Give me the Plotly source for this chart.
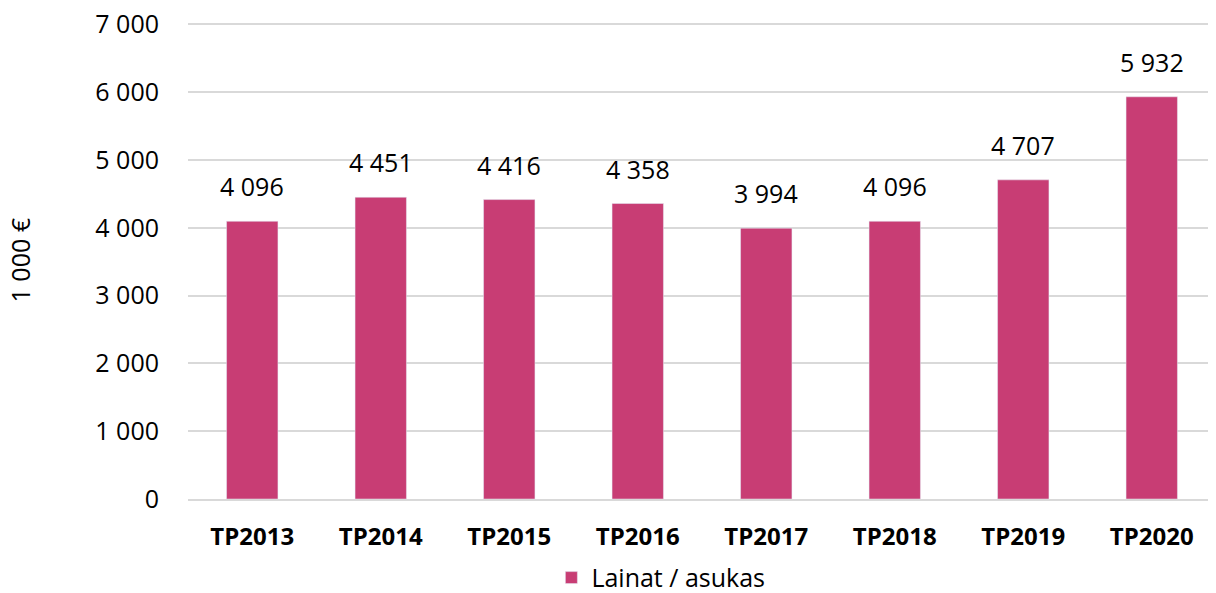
import plotly.graph_objects as go

categories = ['TP2013', 'TP2014', 'TP2015', 'TP2016', 'TP2017', 'TP2018', 'TP2019', 'TP2020']
lainat = [4096, 4451, 4416, 4358, 3994, 4096, 4707, 5932]
y_ticks = [0, 1000, 2000, 3000, 4000, 5000, 6000, 7000]

font_family = "Open Sans, Noto Sans, sans-serif"

fig = go.Figure()
fig.add_trace(go.Bar(
    x=categories, y=lainat, name='Lainat / asukas',
    marker=dict(color='#C83D74'),
))

# value labels above the bars
for cat, val in zip(categories, lainat):
    fig.add_annotation(
        x=cat, y=val, text=f"{val:,}".replace(",", " "),
        showarrow=False, yanchor='bottom', yshift=16,
        font=dict(size=25, color='#000000', family=font_family),
    )

# y axis title, placed by hand (standoff is ignored without automargin)
fig.add_annotation(
    xref='paper', yref='paper', x=-0.163, y=0.5, text='1 000 €',
    textangle=-90, showarrow=False, xanchor='center', yanchor='middle',
    font=dict(size=25, color='#000000', family=font_family),
)

# page body adds an 8px margin, so the figure is a bit smaller than the window
fig.update_layout(
    width=1208, height=585,
    margin=dict(l=180, r=0, t=13, b=94, autoexpand=False),
    paper_bgcolor='white', plot_bgcolor='white',
    separators=', ',
    bargap=0.6,
    font=dict(family=font_family, size=25, color='#000000'),
    showlegend=True,
    legend=dict(orientation='h', x=0.46, xanchor='center', y=-0.165, yanchor='middle',
                font=dict(size=25)),
)
fig.update_yaxes(
    range=[0, 7050], tickvals=y_ticks, tickformat=',d',
    showgrid=True, gridcolor='#D9D9D9', gridwidth=2,
    zeroline=False, showline=False, automargin=False,
    ticklabelstandoff=28, ticklabeloverflow='allow',
    tickfont=dict(size=25),
)
fig.update_xaxes(
    showline=True, linecolor='#D9D9D9', linewidth=2, automargin=False,
    tickfont=dict(size=24, family='Open Sans', weight='bold'),
    ticklabelstandoff=15,
)

fig.write_html("out.html")
